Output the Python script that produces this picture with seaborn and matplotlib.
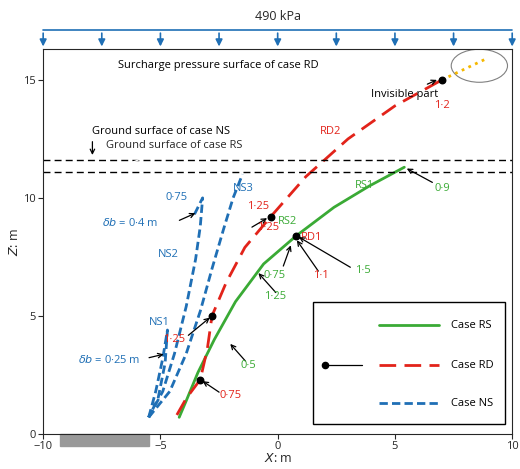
import matplotlib
matplotlib.use("Agg")
import matplotlib.pyplot as plt
import seaborn as sns
import pandas as pd
from matplotlib.patches import Rectangle, Ellipse

sns.set_style("ticks")
plt.rcParams['font.family'] = ['Open Sans', 'DejaVu Sans']

G, R, B = "#3aaa35", "#e2231a", "#1f6fb5"

rs_x = [-4.2, -3.9, -3.4, -2.7, -1.8, -0.6, 0.8, 2.4, 3.9, 5.4]
rs_y = [0.7, 1.4, 2.6, 4.0, 5.6, 7.2, 8.4, 9.6, 10.5, 11.3]
rd_x = [-4.3, -3.9, -3.3, -3.0, -2.8, -2.2, -1.4, -0.3, 1.2, 3.0, 5.0, 7.0]
rd_y = [0.8, 1.5, 2.3, 3.6, 5.0, 6.4, 7.9, 9.2, 10.9, 12.5, 13.9, 15.0]
ns1_x = [-5.5, -5.2, -4.9, -4.7, -4.8, -5.1, -5.5]
ns1_y = [0.7, 1.8, 3.2, 4.4, 3.0, 1.5, 0.7]
ns2_x = [-5.5, -4.9, -4.4, -3.9, -3.5, -3.3, -3.2, -3.4, -3.6]
ns2_y = [0.7, 1.8, 3.4, 5.4, 7.4, 8.8, 10.0, 9.6, 9.2]
ns3_x = [-5.5, -4.6, -3.9, -3.3, -2.8, -2.3, -1.9, -1.5]
ns3_y = [0.7, 1.8, 3.4, 5.2, 7.0, 8.7, 10.0, 11.0]
pt_x = [-3.3, -2.8, -0.3, 0.8, 7.0]
pt_y = [2.3, 5.0, 9.2, 8.4, 15.0]

fig, ax = plt.subplots(figsize=(5.2, 4.69), dpi=100)
fig.subplots_adjust(left=0.083, right=0.985, bottom=0.075, top=0.895)

def line(x, y, c, ls, lw=2):
    sns.lineplot(x=x, y=y, sort=False, estimator=None, color=c, lw=lw, ax=ax, linestyle=ls)

line(rs_x, rs_y, G, "-")
line(rd_x, rd_y, R, (0, (6, 3)))
for xs, ys in [(ns1_x, ns1_y), (ns2_x, ns2_y), (ns3_x, ns3_y)]:
    line(xs, ys, B, (0, (3, 1.5)))
ax.plot([7.0, 8.9], [15.0, 15.9], ls=":", color="#f5b800", lw=2)
ax.scatter(pt_x, pt_y, color="black", s=22, zorder=5)
ax.add_patch(Ellipse((8.6, 15.6), 2.4, 1.4, fill=False, color="gray", lw=0.8))

for yy in (11.1, 11.6):
    ax.axhline(yy, color="black", ls=(0, (5, 3)), lw=1)

ax.set_xlim(-10, 10)
ax.set_ylim(0, 16.3)
ax.set_xticks([-10, -5, 0, 5, 10])
ax.set_yticks([0, 5, 10, 15])
ax.tick_params(labelsize=8, pad=2)
ax.set_xlabel("$X$: m", fontsize=9, labelpad=0)
ax.set_ylabel("$Z$: m", fontsize=9, labelpad=1)

# ground bar
ax.add_patch(Rectangle((-9.3, -0.5), 3.8, 0.5, color="#999999", clip_on=False))

# surcharge arrows
for xv in [-10, -7.5, -5, -2.5, 0, 2.5, 5, 7.5, 10]:
    ax.annotate("", xy=(xv, 16.3), xytext=(xv, 17.1), annotation_clip=False,
                arrowprops=dict(arrowstyle="-|>", color=B, lw=1.2))
ax.plot([-10, 10], [17.1, 17.1], color=B, lw=1.2, clip_on=False)
ax.text(0, 17.7, "490 kPa", ha="center", va="center", fontsize=9)

def T(x, y, s, c="black", **k):
    ax.text(x, y, s, color=c, fontsize=8, **k)

def A(xy, xyt, s="", c="black"):
    ax.annotate(s, xy=xy, xytext=xyt, fontsize=8, color=c, va="center",
                arrowprops=dict(arrowstyle="->", color="black", lw=0.9))

T(-6.8, 15.6, "Surcharge pressure surface of case RD", va="center")
T(-7.9, 12.8, "Ground surface of case NS", va="center")
A((-7.9, 11.7), (-7.9, 12.5))
ax.annotate("Ground surface of case RS", xy=(-7.0, 11.2), xytext=(-7.3, 12.1), fontsize=8,
            arrowprops=dict(arrowstyle="->", lw=0.9))
A((6.9, 15.05), (4.0, 14.4), "Invisible part")
T(7.0, 13.8, "1·2", R, ha="center")
T(1.8, 12.7, "RD2", R)
T(3.3, 10.4, "RS1", G)
A((5.4, 11.3), (6.7, 10.6))
T(6.7, 10.3, "0·9", G)
T(-1.3, 9.55, "1·25", R)
A((-0.35, 9.2), (-1.2, 8.7))
T(-0.9, 8.65, "1·25", R)
T(0.0, 8.9, "RS2", G)
T(1.0, 8.2, "RD1", R)
A((0.8, 8.4), (3.2, 7.0))
T(3.3, 6.8, "1·5", G)
A((0.75, 8.3), (1.8, 6.8))
T(1.5, 6.6, "1·1", R)
T(-0.6, 6.6, "0·75", G)
A((0.6, 8.1), (0.2, 7.0))
A((-0.9, 6.9), (0.0, 5.9))
T(-0.6, 5.7, "1·25", G)
A((-2.1, 3.9), (-1.3, 3.0))
T(-1.6, 2.8, "0·5", G)
A((-3.3, 2.3), (-2.4, 1.7))
T(-2.5, 1.5, "0·75", R)
T(-4.9, 3.9, "1·25", R)
A((-2.8, 5.0), (-3.9, 4.1))
T(-5.5, 4.6, "NS1", B)
T(-8.5, 3.0, "$\\delta b$ = 0·25 m", B)
A((-4.75, 3.4), (-5.6, 3.2))
T(-5.1, 7.5, "NS2", B)
T(-7.5, 8.8, "$\\delta b$ = 0·4 m", B)
A((-3.4, 9.4), (-4.3, 9.0))
T(-4.8, 9.9, "0·75", B)
T(-1.9, 10.3, "NS3", B)

# legend box
ax.add_patch(Rectangle((1.5, 0.4), 8.2, 5.2, fill=False, lw=1, color="black"))
for yy, lab, c, ls, mk in [(4.6, "Case RS", G, "-", False), (2.9, "Case RD", R, (0, (6, 3)), True),
                           (1.3, "Case NS", B, (0, (3, 1.5)), False)]:
    ax.plot([4.3, 6.9], [yy, yy], color=c, ls=ls, lw=2)
    T(7.4, yy, lab, va="center")
    if mk:
        ax.scatter([2.0], [yy], color="black", s=20, zorder=5)
        ax.plot([2.0, 3.6], [yy, yy], color="black", lw=0.9)
    else:
        ax.annotate("", xy=(2.0, yy), xytext=(3.6, yy),
                    arrowprops=dict(arrowstyle="->", lw=0.9))

fig.savefig("out.png", dpi=100)
